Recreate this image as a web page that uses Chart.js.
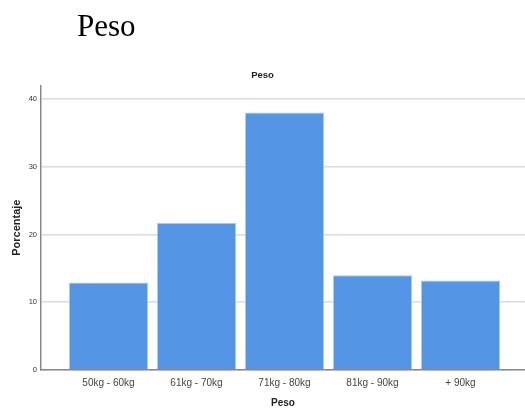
<!DOCTYPE html>
<html>
<head>
<meta charset="utf-8">
<script src="https://cdn.jsdelivr.net/npm/chart.js@4/dist/chart.umd.min.js"></script>
<style>
  body { margin: 0; background: #fff; }
  #wrap { position: relative; width: 525px; height: 409px; }
  #header {
    position: absolute; left: 77px; top: 10px;
    font-family: "Liberation Serif", serif; font-size: 31px; line-height: 1;
    color: #000;
  }
  canvas { position: absolute; left: 0; top: 0; }
</style>
</head>
<body>
<div id="wrap">
  <canvas id="chart" width="525" height="409"></canvas>
  <div id="header">Peso</div>
</div>
<script>
const categories = ['50kg - 60kg', '61kg - 70kg', '71kg - 80kg', '81kg - 90kg', '+ 90kg'];
const percentages = [12.9, 21.7, 38.0, 14.0, 13.2];
const yTicks = [0, 10, 20, 30, 40];

const points = categories.map((c, i) => ({ x: i + 1, y: percentages[i] }));

new Chart(document.getElementById('chart'), {
  type: 'bar',
  data: {
    datasets: [{
      label: 'Porcentaje',
      data: points,
      backgroundColor: '#5595e5',
      borderColor: '#a9c8f2',
      borderWidth: 1,
      barPercentage: 0.9,
      categoryPercentage: 1,
    }],
  },
  options: {
    responsive: false,
    animation: false,
    layout: { padding: { top: 70, right: 0, bottom: 0, left: 0 } },
    plugins: {
      legend: { display: false },
      tooltip: { enabled: false },
      title: {
        display: true,
        text: 'Peso',
        color: '#222',
        font: { family: 'Liberation Sans', size: 9.5, weight: 'bold' },
        padding: { top: 0, bottom: 4 },
      },
    },
    scales: {
      x: {
        type: 'linear',
        offset: false,
        min: 0.233,
        max: 5.733,
        afterBuildTicks: (scale) => {
          scale.ticks = categories.map((c, i) => ({ value: i + 1 }));
        },
        afterFit: (scale) => { scale.height = 39; },
        ticks: {
          autoSkip: false,
          maxRotation: 0,
          padding: 7,
          color: '#444',
          font: { family: 'Liberation Sans', size: 10 },
          callback: (v) => categories[v - 1],
        },
        grid: { display: false, drawTicks: false, offset: false },
        border: { display: true, color: '#888', width: 1.5 },
        title: {
          display: true,
          text: 'Peso',
          color: '#222',
          font: { family: 'Liberation Sans', size: 10, weight: 'bold' },
          padding: { top: 0, bottom: 0 },
        },
      },
      y: {
        min: 0,
        max: 42,
        afterBuildTicks: (scale) => {
          scale.ticks = yTicks.map((v) => ({ value: v }));
        },
        afterFit: (scale) => { scale.width = 41; },
        ticks: {
          padding: 4,
          color: '#333',
          font: { family: 'Liberation Sans', size: 7.5 },
        },
        grid: { color: '#dcdcdc', lineWidth: 1.5, drawTicks: false },
        border: { display: true, color: '#888', width: 1.5 },
        title: {
          display: true,
          text: 'Porcentaje',
          color: '#222',
          font: { family: 'Liberation Sans', size: 11, weight: 'bold' },
          padding: { top: 10, bottom: 0 },
        },
      },
    },
  },
});
</script>
</body>
</html>
